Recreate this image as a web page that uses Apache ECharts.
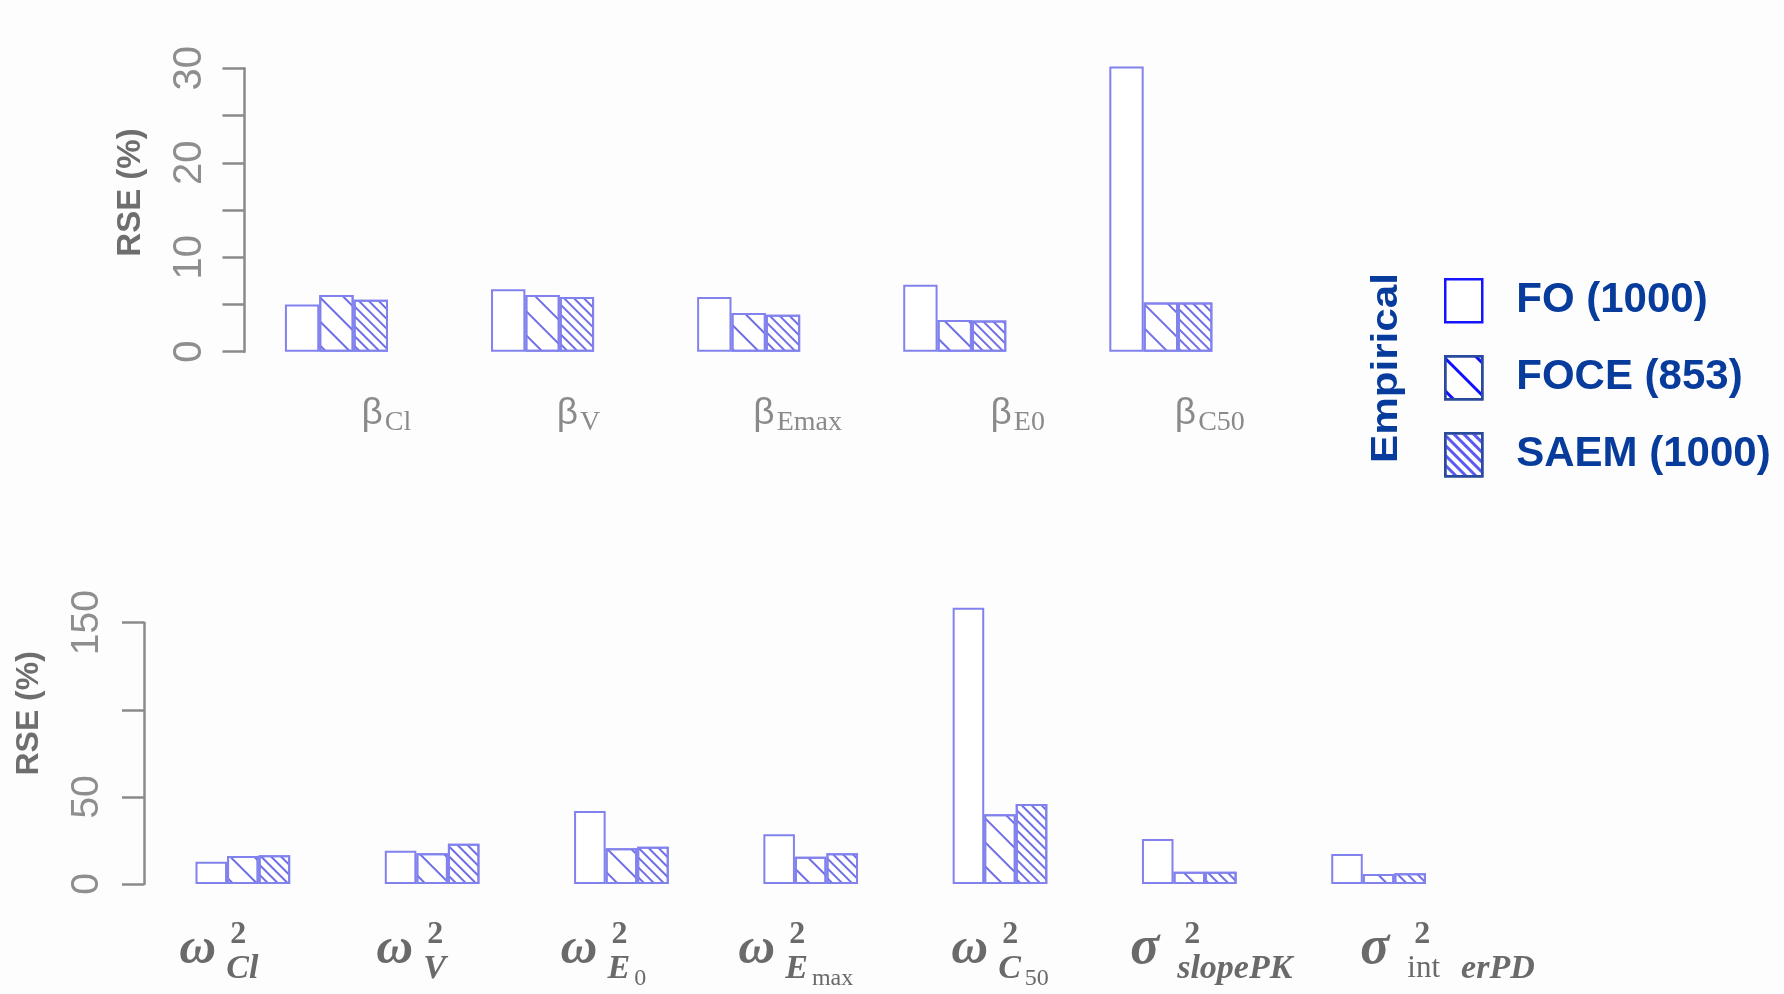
<!DOCTYPE html>
<html>
<head>
<meta charset="utf-8">
<script src="https://cdn.jsdelivr.net/npm/echarts@6/dist/echarts.min.js"></script>
<style>
  html, body { margin: 0; padding: 0; background: #fdfdfd; }
  #chart { width: 1784px; height: 994px; }
</style>
</head>
<body>
<div id="chart"></div>
<script>
// Relative standard errors (%) of the fixed-effect coefficients
const betaParams = ['βCl', 'βV', 'βEmax', 'βE0', 'βC50'];
const betaFO   = [5.0, 6.6, 5.8, 7.1, 30.2];
const betaFOCE = [6.0, 6.0, 4.1, 3.35, 5.2];
const betaSAEM = [5.5, 5.8, 3.9, 3.3, 5.2];
const betaTickLabels = [0, 10, 20, 30];

// Relative standard errors (%) of the variance parameters
const varParams = ['ω²Cl', 'ω²V', 'ω²E0', 'ω²Emax', 'ω²C50', 'σ²slopePK', 'σ²interPD'];
const varFO   = [12.8, 19.1, 41.9, 28.5, 158.6, 25.8, 17.2];
const varFOCE = [16.1, 17.6, 20.5, 15.7, 40.0, 7.1, 5.7];
const varSAEM = [16.5, 23.1, 21.4, 17.6, 45.9, 7.1, 6.1];
const varTickLabels = [0, 50, 150];

const methods = ['FO (1000)', 'FOCE (853)', 'SAEM (1000)'];

// Horizontal nudges of the category labels (px, relative to the group centre)
const betaLabelShift = [50, 36, 49, 63, 49];
const varLabelShift = [-24, -21, -18, -15, 0, 22, 69];

const LAV = '#8282ee';
const HATCH = '#6e6ee6';
const sparseHatch = { symbol: 'rect', symbolSize: 1, color: HATCH, dashArrayX: [1, 0], dashArrayY: [1.6, 14.4], rotation: Math.PI / 4 };
const denseHatch  = { symbol: 'rect', symbolSize: 1, color: HATCH, dashArrayX: [1, 0], dashArrayY: [1.4, 5.0], rotation: Math.PI / 4 };

function shiftPadding(d) {
  return d >= 0 ? [0, 0, 0, 2 * d] : [0, -2 * d, 0, 0];
}

// Rich-text markup for the variance parameter labels
const varMarkup = {
  'ω²Cl':      '{gw| }{sup|2}\n{om|ω}{sub|Cl}',
  'ω²V':       '{gw| }{sup|2}\n{om|ω}{sub|V}',
  'ω²E0':      '{gw| }{sup|2}\n{om|ω}{sub|E}{lo|0}',
  'ω²Emax':    '{gw| }{sup|2}\n{om|ω}{sub|E}{lo|max}',
  'ω²C50':     '{gw| }{sup|2}\n{om|ω}{sub|C}{lo|50}',
  'σ²slopePK': '{gs| }{sup|2}\n{sg|σ}{sub|slopePK}',
  'σ²interPD': '{gs| }{sup|2}\n{sg|σ}{up|int}{sub2|erPD}'
};

const GREY_TOP = '#8a8a8a';
const GREY_BOT = '#6a6a6a';
const SERIF = 'Liberation Serif';
const SANS = 'Liberation Sans';

function yAxisCommon(extra) {
  return Object.assign({
    type: 'value',
    nameLocation: 'middle',
    nameRotate: 90,
    nameMoveOverlap: false,
    splitLine: { show: false },
    axisLine: { show: true, lineStyle: { color: '#8a8a8a', width: 2.5 } },
    axisTick: { show: true, length: 22, lineStyle: { color: '#8a8a8a', width: 2.5 } }
  }, extra);
}

function barSeries(name, data, axisIdx, decal) {
  const s = {
    name: name,
    type: 'bar',
    xAxisIndex: axisIdx,
    yAxisIndex: axisIdx,
    data: data,
    clip: false,
    barGap: '0%',
    barCategoryGap: '50%',
    itemStyle: { color: '#ffffff', borderColor: LAV, borderWidth: 2 },
    emphasis: { disabled: true }
  };
  if (decal) s.itemStyle.decal = decal;
  return s;
}

const chart = echarts.init(document.getElementById('chart'), null, { renderer: 'canvas' });

const serifBold = { fontFamily: SERIF, fontWeight: 'bold', color: GREY_BOT, align: 'left', verticalAlign: 'top' };
const serifBoldItalic = Object.assign({}, serifBold, { fontStyle: 'italic' });
const serifPlain = { fontFamily: SERIF, color: GREY_BOT, align: 'left', verticalAlign: 'top' };

chart.setOption({
  animation: false,
  backgroundColor: '#fdfdfd',
  grid: [
    { left: 233.4, top: 68.3, width: 1030.5, height: 283.4, outerBoundsMode: 'none' },
    { left: 148.2, top: 622.7, width: 1325, height: 261.3, outerBoundsMode: 'none' }
  ],
  xAxis: [
    {
      gridIndex: 0,
      type: 'category',
      data: betaParams.map((p, i) => ({ value: p, textStyle: { padding: shiftPadding(betaLabelShift[i]) } })),
      axisLine: { show: false },
      axisTick: { show: false },
      axisLabel: {
        interval: 0,
        margin: 42,
        formatter: v => '{b|' + v[0] + '}{s|' + v.slice(1) + '}',
        rich: {
          b: { fontFamily: SANS, fontSize: 37, lineHeight: 40, height: 40, color: GREY_TOP, verticalAlign: 'top', align: 'left' },
          s: { fontFamily: SERIF, fontSize: 28, lineHeight: 28, height: 28, color: GREY_TOP, verticalAlign: 'top', align: 'left', padding: [15, 0, 0, 2] }
        }
      }
    },
    {
      gridIndex: 1,
      type: 'category',
      data: varParams.map((p, i) => ({ value: p, textStyle: { padding: shiftPadding(varLabelShift[i]) } })),
      axisLine: { show: false },
      axisTick: { show: false },
      axisLabel: {
        interval: 0,
        margin: 41,
        formatter: v => varMarkup[v],
        rich: {
          gw:   { width: 51, lineHeight: 20, height: 20, align: 'left', verticalAlign: 'top', fontSize: 10 },
          gs:   { width: 54, lineHeight: 20, height: 20, align: 'left', verticalAlign: 'top', fontSize: 10 },
          sup:  Object.assign({}, serifBold, { fontSize: 32, lineHeight: 20, height: 20 }),
          om:   Object.assign({}, serifBoldItalic, { fontSize: 51, width: 47, lineHeight: 10, height: 10 }),
          sg:   Object.assign({}, serifBoldItalic, { fontSize: 54, width: 47, lineHeight: 9, height: 9 }),
          sub:  Object.assign({}, serifBoldItalic, { fontSize: 34, lineHeight: 28, height: 28, padding: [10, 0, 0, 0] }),
          sub2: Object.assign({}, serifBoldItalic, { fontSize: 34, lineHeight: 28, height: 28, padding: [10, 0, 0, 21] }),
          lo:   Object.assign({}, serifPlain, { fontSize: 24, lineHeight: 20, height: 20, padding: [24, 0, 0, 4] }),
          up:   Object.assign({}, serifPlain, { fontSize: 31, lineHeight: 28, height: 28, padding: [10, 0, 0, 0] })
        }
      }
    }
  ],
  yAxis: [
    yAxisCommon({
      gridIndex: 0,
      min: 0, max: 30, interval: 5,
      offset: -11.1,
      name: 'RSE (%)',
      nameGap: 97,
      nameTextStyle: { fontFamily: SANS, fontWeight: 'bold', fontSize: 33, color: '#6e6e6e', padding: [0, 0, 0, 35] },
      axisLabel: {
        rotate: 90, margin: 35, fontFamily: SANS, fontSize: 40, color: '#8e8e8e',
        formatter: v => betaTickLabels.includes(v) ? String(v) : ''
      }
    }),
    yAxisCommon({
      gridIndex: 1,
      min: 0, max: 150, interval: 50,
      offset: 4.2,
      name: 'RSE (%)',
      nameGap: 99,
      nameTextStyle: { fontFamily: SANS, fontWeight: 'bold', fontSize: 32, color: '#6e6e6e', padding: [0, 0, 0, 80] },
      axisLabel: {
        rotate: 90, margin: 37, fontFamily: SANS, fontSize: 39, color: '#8e8e8e',
        formatter: v => varTickLabels.includes(v) ? String(v) : ''
      }
    })
  ],
  legend: {
    orient: 'vertical',
    left: 1439,
    top: 273,
    itemWidth: 37,
    itemHeight: 43,
    itemGap: 31.5,
    icon: 'rect',
    selectedMode: false,
    formatter: name => '{gap| }' + name,
    textStyle: {
      fontFamily: SANS, fontWeight: 'bold', fontSize: 42, color: '#073b9c',
      rich: { gap: { width: 29 } }
    },
    data: [
      { name: methods[0], itemStyle: { color: '#ffffff', borderColor: '#1414ff', borderWidth: 2.5 } },
      { name: methods[1], itemStyle: { color: '#ffffff', borderColor: '#2a4a9c', borderWidth: 2.5,
        decal: { symbol: 'rect', symbolSize: 1, color: '#1010ff', dashArrayX: [1, 0], dashArrayY: [2.2, 19.8], rotation: Math.PI / 4 } } },
      { name: methods[2], itemStyle: { color: '#ffffff', borderColor: '#2a4a9c', borderWidth: 2.5,
        decal: { symbol: 'rect', symbolSize: 1, color: '#5a5af0', dashArrayX: [1, 0], dashArrayY: [2.2, 3.2], rotation: Math.PI / 4 } } }
    ]
  },
  graphic: [
    {
      type: 'text',
      x: 1387,
      y: 368,
      rotation: Math.PI / 2,
      scaleX: 1.14,
      style: {
        text: 'Empirical',
        fontFamily: SANS, fontWeight: 'bold', fontSize: 37,
        fill: '#073b9c', align: 'center', verticalAlign: 'middle'
      }
    }
  ],
  series: [
    barSeries(methods[0], betaFO, 0, null),
    barSeries(methods[1], betaFOCE, 0, sparseHatch),
    barSeries(methods[2], betaSAEM, 0, denseHatch),
    barSeries(methods[0], varFO, 1, null),
    barSeries(methods[1], varFOCE, 1, sparseHatch),
    barSeries(methods[2], varSAEM, 1, denseHatch)
  ]
});
</script>
</body>
</html>
